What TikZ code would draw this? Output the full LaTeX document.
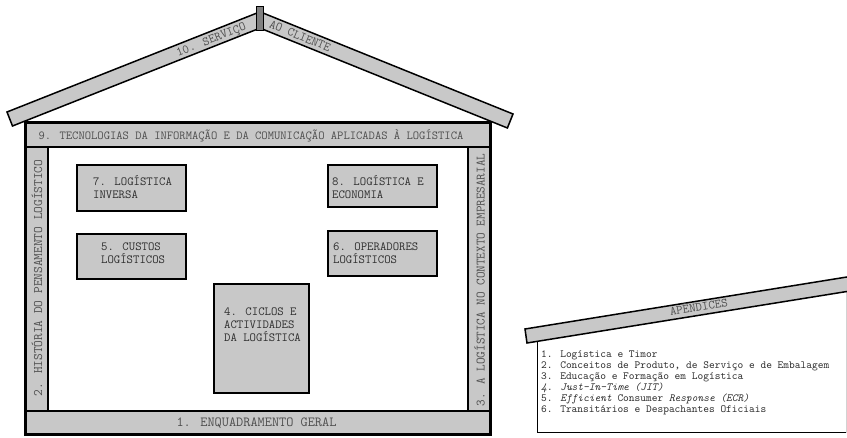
\documentclass[tikz,border=0pt]{standalone}
\usepackage{fontspec}
\definecolor{fillg}{HTML}{C8C8C8}
\definecolor{chim}{HTML}{808080}
\definecolor{txtd}{HTML}{2E2E2E}
\definecolor{txtl}{HTML}{4E4E4E}
\tikzset{
  barbox/.style={draw=black, line width=1.5pt, fill=fillg},
  box/.style={draw=black, line width=1.6pt, fill=fillg, inner sep=0pt},
  boxtext/.style={text=txtd, font=\ttfamily\fontsize{12.4}{13}\selectfont, align=left, inner sep=0pt},
  rooftext/.style={text=txtl, font=\ttfamily\fontsize{12.6}{13}\selectfont, inner sep=0pt, anchor=base},
  sidetext/.style={text=txtl, inner sep=0pt},
  apptext/.style={text=txtd, font=\ttfamily\fontsize{10.9}{11.1}\selectfont, align=left, inner sep=0pt},
}
\begin{document}
\begin{tikzpicture}[x=1pt,y=-1pt]
\useasboundingbox (0,0) rectangle (847,438);
\fill[white] (0,0) rectangle (847,438);
% roof
\draw[barbox] (7,112) -- (257,13) -- (257,29.3) -- (12.5,126) -- cycle;
\draw[barbox] (263,13) -- (513,114) -- (507.4,128) -- (263,29.3) -- cycle;
\draw[draw=black, line width=1pt, fill=chim] (256.8,7) rectangle (263.2,30.5);
\node[rooftext, rotate=21.6] (r10) at (212.4,42.9) {10. SERVIÇO};
\node[rooftext, rotate=-22] (r11) at (298.6,39.7) {AO CLIENTE};
% house
\draw[barbox] (25,123) rectangle (490,147);
\draw[barbox] (25,147) rectangle (48,411);
\draw[barbox] (468,147) rectangle (490,411);
\draw[barbox] (25,411) rectangle (490,435);
\draw[line width=3pt] (25,123) rectangle (490,435);
\node[sidetext, font=\ttfamily\fontsize{12.25}{13}\selectfont] (t9) at (251,135.5) {9. TECNOLOGIAS DA INFORMAÇÃO E DA COMUNICAÇÃO APLICADAS À LOGÍSTICA};
\node[sidetext, font=\ttfamily\fontsize{13}{13}\selectfont, rotate=90] (t2) at (37,278) {2. HISTÓRIA DO PENSAMENTO LOGÍSTICO};
\node[sidetext, font=\ttfamily\fontsize{12.8}{13}\selectfont, rotate=90] (t3) at (479.5,280) {3. A LOGÍSTICA NO CONTEXTO EMPRESARIAL};
\node[sidetext, font=\ttfamily\fontsize{13.9}{14}\selectfont] (t1) at (256.5,423.5) {1. ENQUADRAMENTO GERAL};
% boxes
\node[box, minimum width=109pt, minimum height=46pt] (b7) at (131.5,188) {};
\node[boxtext, anchor=west] (l7) at (93,187.5) {7. LOGÍSTICA\\INVERSA};
\node[box, minimum width=109pt, minimum height=42pt] (b8) at (382.5,186) {};
\node[boxtext, anchor=west] (l8) at (332,187.5) {8. LOGÍSTICA E\\ECONOMIA};
\node[box, minimum width=109pt, minimum height=45pt] (b5) at (131.5,256.5) {};
\node[boxtext, anchor=west] (l5) at (101,253.5) {5. CUSTOS\\LOGÍSTICOS};
\node[box, minimum width=109pt, minimum height=45pt] (b6) at (382.5,253.5) {};
\node[boxtext, anchor=west] (l6) at (333,253.5) {6. OPERADORES\\LOGÍSTICOS};
\node[box, minimum width=95pt, minimum height=109pt] (b4) at (261.5,338.5) {};
\node[boxtext, anchor=west] (l4) at (224,324.5) {4. CICLOS E\\ACTIVIDADES\\DA LOGÍSTICA};
% appendix
\draw[black, line width=1pt] (537.5,340) -- (537.5,433) -- (847,433);
\draw[gray!35, line width=0.6pt] (846.3,292) -- (846.3,433);
\fill[fillg] (850,276.5) -- (525,329) -- (527,343) -- (850,291) -- cycle;
\draw[black, line width=1.5pt] (850,276.5) -- (525,329) -- (527,343) -- (850,291);
\node[rooftext, rotate=9.2] (ta) at (699.4,311) {APÊNDICES};
\node[apptext, anchor=north west] (tl) at (541,350.5) {1. Logística e Timor\\
2. Conceitos de Produto, de Serviço e de Embalagem\\
3. Educação e Formação em Logística\\
\textit{4. Just-In-Time (JIT)}\\
5. \textit{Efficient} Consumer \textit{Response (ECR)}\\
6. Transitários e Despachantes Oficiais};
\end{tikzpicture}
\end{document}
